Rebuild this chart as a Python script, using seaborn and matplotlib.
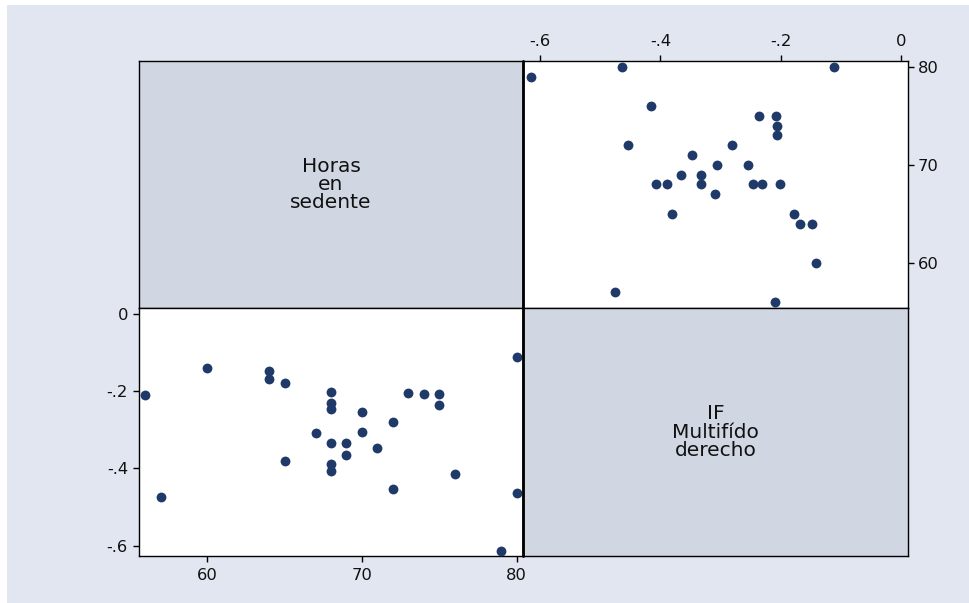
import matplotlib
matplotlib.use("Agg")
import matplotlib.pyplot as plt
import seaborn as sns
import pandas as pd
from matplotlib.patches import Rectangle
from matplotlib.lines import Line2D

# ---- data ----
horas = [56, 57, 60, 64, 64, 65, 65, 67, 68, 68, 68, 68, 68, 68, 69, 69,
         70, 70, 71, 72, 72, 73, 74, 75, 75, 76, 79, 80, 80]
if_md = [-0.210, -0.475, -0.141, -0.149, -0.169, -0.178, -0.380, -0.309,
         -0.202, -0.231, -0.246, -0.333, -0.389, -0.407, -0.333, -0.365,
         -0.255, -0.306, -0.347, -0.281, -0.453, -0.206, -0.207, -0.208,
         -0.237, -0.415, -0.614, -0.112, -0.463]
var_labels = ["Horas\nen\nsedente", "IF\nMultifído\nderecho"]
horas_ticks = [60, 70, 80]
horas_ticklabels = ["60", "70", "80"]
if_ticks = [-0.6, -0.4, -0.2, 0.0]
if_ticklabels = ["-.6", "-.4", "-.2", "0"]

df = pd.DataFrame({"horas": horas, "if_md": if_md})

sns.set_style("white")
plt.rcParams["font.family"] = ["DejaVu Sans"]

W, H = 970, 603
fig = plt.figure(figsize=(W / 100, H / 100), dpi=100)
fig.patch.set_facecolor("white")
bg = "#E1E6F0"
diag_fc = "#D0D6E2"
mcol = "#1F3A69"

fig.patches.append(Rectangle((7 / W, 0), 1 - 7 / W, 1 - 5 / H,
                             transform=fig.transFigure, facecolor=bg,
                             edgecolor="none", zorder=-10))

x0, xm, x1 = 139, 523, 908
y0, ym, y1 = 61, 308, 556


def add(xa, xb, ya, yb):
    return fig.add_axes([xa / W, 1 - yb / H, (xb - xa) / W, (yb - ya) / H])


ax_ul = add(x0, xm, y0, ym)
ax_ur = add(xm, x1, y0, ym)
ax_ll = add(x0, xm, ym, y1)
ax_lr = add(xm, x1, ym, y1)

for ax in (ax_ul, ax_ur, ax_ll, ax_lr):
    for s in ax.spines.values():
        s.set_color("black")
        s.set_linewidth(1.0)

# diagonal panels
for ax, lab in ((ax_ul, var_labels[0]), (ax_lr, var_labels[1])):
    ax.set_facecolor(diag_fc)
    ax.set_xticks([])
    ax.set_yticks([])
    ax.text(0.5, 0.5, lab, transform=ax.transAxes, ha="center", va="center",
            fontsize=14.5, linespacing=0.95, color="#111111")

tick_kw = dict(labelsize=11.8, length=4.5, width=1.0, color="black",
               labelcolor="#111111", direction="out")

# upper right: x = IF, y = horas
sns.scatterplot(data=df, x="if_md", y="horas", ax=ax_ur, color=mcol, s=50,
                linewidth=0, marker="o", zorder=3)
ax_ur.set_facecolor("white")
ax_ur.set_xlim(-0.628, 0.011)
ax_ur.set_ylim(55.42, 80.58)
ax_ur.xaxis.tick_top()
ax_ur.yaxis.tick_right()
ax_ur.set_xticks(if_ticks, if_ticklabels)
ax_ur.set_yticks(horas_ticks, horas_ticklabels)
ax_ur.tick_params(axis="x", top=True, bottom=False, pad=4, **tick_kw)
ax_ur.tick_params(axis="y", right=True, left=False, pad=2.5, **tick_kw)
ax_ur.set_xlabel("")
ax_ur.set_ylabel("")

# lower left: x = horas, y = IF
sns.scatterplot(data=df, x="horas", y="if_md", ax=ax_ll, color=mcol, s=50,
                linewidth=0, marker="o", zorder=3)
ax_ll.set_facecolor("white")
ax_ll.set_xlim(55.59, 80.41)
ax_ll.set_ylim(-0.627, 0.0155)
ax_ll.set_xticks(horas_ticks, horas_ticklabels)
ax_ll.set_yticks(if_ticks, if_ticklabels)
ax_ll.tick_params(axis="x", bottom=True, top=False, pad=4, **tick_kw)
ax_ll.tick_params(axis="y", left=True, right=False, pad=3.5, **tick_kw)
ax_ll.set_xlabel("")
ax_ll.set_ylabel("")

# thick central divider
fig.lines.append(Line2D([xm / W, xm / W], [1 - y1 / H, 1 - y0 / H],
                        transform=fig.transFigure, color="black",
                        linewidth=2.0, zorder=10))

fig.savefig("out.png", dpi=100, facecolor=fig.get_facecolor())
